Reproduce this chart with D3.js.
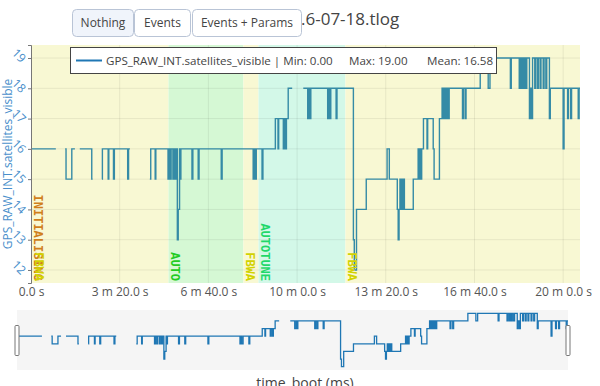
<!DOCTYPE html>
<html>
<head>
<meta charset="utf-8">
<script src="https://cdn.jsdelivr.net/npm/d3@7"></script>
<style>
body{margin:0;background:#fff;}
svg{font-family:"Open Sans",sans-serif;}
</style>
</head>
<body>
<div class="chart"></div>
<script>
// GPS_RAW_INT.satellites_visible, step values (time in s, null = no data)
const times = [2,56,77,79,92,99,110,137,139,160,161,174,175.5,186,188,218,220,223,
  268,270,280,281.5,309,311,314,316,320,322,325,327,330,332,335,336,338,363,365,377,379,
  429,431,501,503,505,508,521,523,551,557,558.5,569,571,574,576,580,589,
  614,624,627,629,631,669,671,674,676,688,690,727,729,734,756,803,808,
  826,828,830,832,834,836,838,840,842,862,873,875,877,879,881,885,893,894.5,907,909,
  921,927,929,931,933,935,937,939,941,943,973,975,979,981,1013,1031,1035,1081,1083,
  1101,1103,1106,1108,1110,1112,1115,1118,1124,1126,1129,1131,1136,1138,1142,1144,
  1148,1150,1155,1157,1161,1163,1169,1171,1200,1202,1210,1212,1217,1219,1234,1236];
const sats = [16,null,16,15,16,null,16,15,null,15,16,15,16,15,16,15,16,null,
  15,16,15,16,15,16,15,16,15,16,15,16,13,14,16,15,16,15,16,15,16,
  15,16,15,16,15,16,15,16,17,16,17,16,17,16,17,18,null,
  18,17,18,17,18,17,18,17,18,17,18,13,12,14,15,16,15,
  14,13,14,15,14,15,14,15,14,15,16,15,16,15,16,17,16,17,16,15,
  17,18,17,18,17,18,17,18,17,18,17,18,17,18,19,18,19,18,19,
  18,19,18,19,18,19,18,19,17,18,17,19,18,19,18,19,
  18,19,18,19,18,19,17,18,16,18,17,18,17,18,17,18];
const endTime = 1238;

const modeNames = ['INITIALISING','FBWA','AUTO','FBWA','AUTOTUNE','FBWA'];
const modeStarts = [0, 2, 310, 479, 513, 709];
const modeBg = {INITIALISING:'#f8f8d3', FBWA:'#f8f8d3', AUTO:'#d5f8d4', AUTOTUNE:'#d3f8e8'};
const modeText = {INITIALISING:'#d07f1c', FBWA:'#d2d200', AUTO:'#22cc22', AUTOTUNE:'#1fd86a'};

const xTicks = [0,200,400,600,800,1000,1200];
const yTicks = [12,13,14,15,16,17,18,19];
const buttons = ['Nothing','Events','Events + Params'];

const W = 600, H = 386;
const plot = {left:31, right:580, top:45, bottom:283};

const svg = d3.select('.chart').append('svg')
    .attr('width', W).attr('height', H);

const x = d3.scaleLinear().domain([0,endTime]).range([plot.left, plot.right]);
const y = d3.scaleLinear().domain([11.57,19.43]).range([plot.bottom, plot.top]);
const xMini = d3.scaleLinear().domain([0,endTime]).range([17, 568]);
const yMini = d3.scaleLinear().domain([11.57,19.43]).range([370, 310]);

// step points
const pts = [];
times.forEach((t,i) => {
    const t1 = i+1 < times.length ? times[i+1] : endTime;
    if (sats[i] == null) { pts.push({t:t, v:null}); return; }
    pts.push({t:t, v:sats[i]}, {t:t1, v:sats[i]});
});

// title
svg.append('text')
    .attr('x', 301).attr('y', 25)
    .attr('font-size', 17).attr('fill', '#444')
    .text('.6-07-18.tlog');

svg.append('defs').append('clipPath').attr('id','clip')
    .append('rect')
    .attr('x', plot.left).attr('y', plot.top)
    .attr('width', plot.right-plot.left).attr('height', plot.bottom-plot.top);

const g = svg.append('g').attr('clip-path','url(#clip)');

// mode bands
g.selectAll('.band')
    .data(modeNames)
    .enter().append('rect')
    .attr('class','band')
    .attr('x', (d,i) => x(modeStarts[i]))
    .attr('y', plot.top)
    .attr('width', (d,i) => x(i+1 < modeStarts.length ? modeStarts[i+1] : endTime) - x(modeStarts[i]))
    .attr('height', plot.bottom-plot.top)
    .attr('fill', d => modeBg[d]);

// grid
g.selectAll('.hgrid').data(yTicks).enter().append('line')
    .attr('x1', plot.left).attr('x2', plot.right)
    .attr('y1', d => y(d)).attr('y2', d => y(d))
    .attr('stroke', '#000').attr('stroke-opacity', 0.07);
g.selectAll('.vgrid').data(xTicks).enter().append('line')
    .attr('x1', d => x(d)).attr('x2', d => x(d))
    .attr('y1', plot.top).attr('y2', plot.bottom)
    .attr('stroke', '#000').attr('stroke-opacity', 0.07);

// data line
const line = d3.line()
    .defined(d => d.v != null)
    .x(d => x(d.t)).y(d => y(d.v));
g.append('path')
    .datum(pts)
    .attr('d', line)
    .attr('fill','none')
    .attr('stroke','#358ba6')
    .attr('stroke-width',1.4);

// mode labels
g.selectAll('.mode')
    .data(modeNames)
    .enter().append('text')
    .attr('transform', (d,i) => `translate(${x(modeStarts[i])+7},${plot.bottom-2}) rotate(90)`)
    .attr('text-anchor','end')
    .attr('dy','0.35em')
    .attr('font-family','"Liberation Mono", monospace')
    .attr('font-weight','bold')
    .attr('font-size', 12)
    .attr('fill', d => modeText[d])
    .text(d => d);

// y axis
const yAxis = d3.axisLeft(y).tickValues(yTicks).tickSize(3).tickFormat(d3.format('d'));
const ya = svg.append('g')
    .attr('transform', `translate(${plot.left},0)`)
    .call(yAxis);
ya.select('.domain').attr('stroke','#777');
ya.selectAll('line').attr('stroke','#777');
ya.selectAll('text')
    .attr('x', 0).attr('dy','0.35em')
    .attr('text-anchor','middle')
    .attr('transform','translate(-12,-3) rotate(45)')
    .attr('font-size', 12)
    .attr('font-family','"Open Sans",sans-serif')
    .attr('fill','#4a8fcb');

svg.append('text')
    .attr('transform', 'translate(12,164) rotate(-90)')
    .attr('text-anchor','middle')
    .attr('font-size', 12)
    .attr('fill','#4a8fcb')
    .text('GPS_RAW_INT.satellites_visible');

// x axis
const fmt = t => {
    const m = Math.floor(t/60), s = t - m*60;
    return m > 0 ? `${m} m ${s.toFixed(1)} s` : `${s.toFixed(1)} s`;
};
const xAxis = d3.axisBottom(x).tickValues(xTicks).tickSize(0).tickFormat(fmt);
const xa = svg.append('g')
    .attr('transform', `translate(0,${plot.bottom})`)
    .call(xAxis);
xa.select('.domain').remove();
xa.selectAll('text')
    .attr('y', 4)
    .attr('font-size', 12)
    .attr('font-family','"Open Sans",sans-serif')
    .attr('fill','#555');

// legend
const lg = svg.append('g');
lg.append('rect')
    .attr('x', 70.5).attr('y', 47.5).attr('width', 426).attr('height', 26)
    .attr('fill','#fff').attr('stroke','#444');
lg.append('line')
    .attr('x1', 76).attr('x2', 102).attr('y1', 60.5).attr('y2', 60.5)
    .attr('stroke','#1f77b4').attr('stroke-width', 2);
const legendText = ['GPS_RAW_INT.satellites_visible | Min: 0.00', 'Max: 19.00', 'Mean: 16.58'];
const legendX = [106, 349, 427];
lg.selectAll('.lt').data(legendText).enter().append('text')
    .attr('x', (d,i) => legendX[i]).attr('y', 65)
    .attr('font-size', 11.6).attr('fill','#444')
    .text(d => d);

// buttons
const btnX = [72, 134, 192], btnW = [61, 56, 109];
const bg = svg.selectAll('.btn').data(buttons).enter().append('g');
bg.append('rect')
    .attr('x', (d,i) => btnX[i]+0.5).attr('y', 9.5)
    .attr('width', (d,i) => btnW[i]).attr('height', 27).attr('rx', 4)
    .attr('fill', (d,i) => i == 0 ? '#f0f4fb' : '#fff')
    .attr('stroke','#b9c4d6');
bg.append('text')
    .attr('x', (d,i) => btnX[i] + btnW[i]/2 + 0.5).attr('y', 27)
    .attr('text-anchor','middle')
    .attr('font-size', 12).attr('fill','#444')
    .text(d => d);

// range slider
svg.append('rect')
    .attr('x', 17).attr('y', 310).attr('width', 551).attr('height', 60)
    .attr('fill','#f5f5f5');
const miniLine = d3.line()
    .defined(d => d.v != null)
    .x(d => xMini(d.t)).y(d => yMini(d.v));
svg.append('path')
    .datum(pts)
    .attr('d', miniLine)
    .attr('fill','none')
    .attr('stroke','#1f77b4')
    .attr('stroke-width',1.3);
svg.selectAll('.handle').data([0, endTime]).enter().append('rect')
    .attr('x', d => xMini(d)-2).attr('y', 325.5)
    .attr('width', 4).attr('height', 30).attr('rx', 1)
    .attr('fill','#fff').attr('stroke','#777');

svg.append('text')
    .attr('x', 305).attr('y', 388)
    .attr('text-anchor','middle')
    .attr('font-size', 14).attr('fill','#444')
    .text('time_boot (ms)');
</script>
</body>
</html>
